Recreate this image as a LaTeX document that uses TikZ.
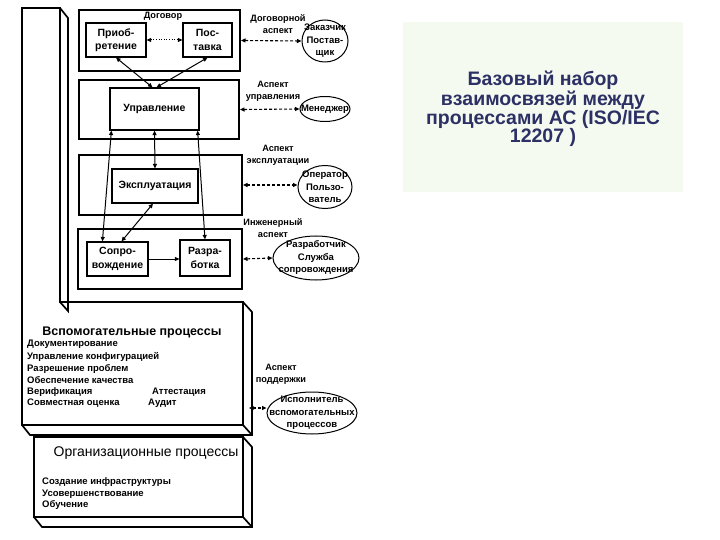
\documentclass[tikz,border=0pt]{standalone}
\usepackage{fontspec}
\setmainfont{Liberation Sans}
\usetikzlibrary{arrows.meta,shapes.geometric,calc}
\definecolor{titlecol}{RGB}{45,48,100}
\definecolor{tbg}{RGB}{244,250,240}
\begin{document}
\begin{tikzpicture}[x=1pt,y=-1pt,
  >={Triangle[length=4.5pt,width=4pt]},
  frame/.style={draw,line width=2pt,anchor=north west,inner sep=0pt},
  box/.style={draw,line width=1.2pt,align=center,inner sep=0pt,font=\bfseries\fontsize{10.5}{13.5}\selectfont},
  oval/.style={draw,ellipse,line width=1pt,align=center,inner sep=-30pt,font=\bfseries\fontsize{9.5}{12.5}\selectfont},
  lbl/.style={align=center,inner sep=0pt,font=\bfseries\fontsize{9.2}{12}\selectfont},
  item/.style={anchor=west,inner sep=0pt,font=\bfseries\fontsize{9.5}{11}\selectfont},
  link/.style={line width=1pt,<->},
  onelink/.style={line width=1pt,->},
  dotlink/.style={line width=1pt,<->,dash pattern=on 1pt off 1.6pt},
  dashlink/.style={line width=1.1pt,<->,dash pattern=on 3pt off 2pt},
  solid3d/.style={line width=1.7pt,line join=miter}
]
\useasboundingbox (0,0) rectangle (720,540);
\fill[white] (0,0) rectangle (720,540);

% title panel
\fill[tbg] (403,22) rectangle (683,192);
\node[text=titlecol,align=center,inner sep=0pt,font=\bfseries\fontsize{19.5}{18.5}\selectfont] (title) at (543,109) {Базовый набор\\взаимосвязей между\\процессами АС (ISO/IEC\\12207 )};

% 3D solid: column + support box
\draw[solid3d] (22,8) -- (60,8) -- (60,302) -- (243,302) -- (243,425) -- (22,425) -- cycle;
\draw[solid3d] (60,8) -- (68,18) -- (68,311) -- (60,302);
\draw[solid3d] (243,302) -- (252,312) -- (252,435) -- (30,435) -- (22,425);
\draw[solid3d] (243,425) -- (252,435);
% 3D organisational box
\draw[solid3d] (34,437) rectangle (243,517);
\draw[solid3d] (243,437) -- (252,447) -- (252,527) -- (42,527) -- (34,517);
\draw[solid3d] (243,517) -- (252,527);

% frames
\node[frame,minimum width=161pt,minimum height=61pt] (f1) at (78,9) {};
\node[frame,minimum width=160pt,minimum height=59pt] (f2) at (78,79) {};
\node[frame,minimum width=163pt,minimum height=60pt] (f3) at (78,154) {};
\node[frame,minimum width=164pt,minimum height=60pt] (f4) at (77,228) {};

\node[lbl] (dog) at (163,16) {Договор};

% inner boxes
\node[box,minimum width=60pt,minimum height=34pt] (p1) at (116,40) {Приоб-\\ретение};
\node[box,minimum width=49pt,minimum height=34pt] (p2) at (207.5,40) {Пос-\\тавка};
\node[box,minimum width=89pt,minimum height=42pt] (upr) at (154.5,109) {Управление};
\node[box,minimum width=86pt,minimum height=34pt] (eks) at (155,186) {Эксплуатация};
\node[box,minimum width=61pt,minimum height=34pt] (sop) at (117.5,259) {Сопро-\\вождение};
\node[box,minimum width=50pt,minimum height=36pt] (raz) at (205,258) {Разра-\\ботка};

% ellipses
\node[oval,minimum width=46pt,minimum height=42pt] (e1) at (325,41) {Заказчик\\Постав-\\щик};
\node[oval,minimum width=50pt,minimum height=25pt] (e2) at (325,109) {Менеджер};
\node[oval,minimum width=54pt,minimum height=43pt] (e3) at (325,187) {Оператор\\Пользо-\\ватель};
\node[oval,minimum width=86pt,minimum height=44pt] (e4) at (316,258) {Разработчик\\Служба\\сопровождения};
\node[oval,minimum width=90pt,minimum height=42pt] (e5) at (312,413) {Исполнитель\\вспомогательных\\процессов};

% aspect labels
\node[lbl] (a1) at (278,24) {Договорной\\аспект};
\node[lbl] (a2) at (273,91) {Аспект\\управления};
\node[lbl] (a3) at (278,155) {Аспект\\эксплуатации};
\node[lbl] (a4) at (273,228) {Инженерный\\аспект};
\node[lbl] (a5) at (281,374) {Аспект\\поддержки};

% support processes
\node[font=\bfseries\fontsize{12.5}{14}\selectfont,inner sep=0pt] (sup) at (132,332) {Вспомогательные процессы};
\node[item] (s1) at (27,344) {Документирование};
\node[item] (s2) at (27,357) {Управление конфигурацией};
\node[item] (s3) at (27,369) {Разрешение проблем};
\node[item] (s4) at (27,380) {Обеспечение качества};
\node[item] (s5) at (27,392) {Верификация};
\node[item] (s6) at (27,403) {Совместная оценка};
\node[item] (s7) at (152,392) {Аттестация};
\node[item] (s8) at (148,403) {Аудит};

% organisational processes
\node[font=\fontsize{14}{16}\selectfont,inner sep=0pt] (org) at (146,453) {Организационные процессы};
\node[item] (o1) at (42,482) {Создание инфраструктуры};
\node[item] (o2) at (42,494) {Усовершенствование};
\node[item] (o3) at (42,505) {Обучение};

% connectors
\draw[dotlink] (p1.east) -- (p2.west);
\draw[link] (p1.south) -- ([xshift=-2pt]upr.north);
\draw[link] (p2.south) -- ([xshift=2pt]upr.north);
\draw[link] ([xshift=2pt]upr.south west) -- ([xshift=16pt]sop.north west);
\draw[link] (upr.south) -- (eks.north);
\draw[link] ([xshift=-2pt]upr.south east) -- (raz.north);
\draw[link] ([xshift=-2pt]eks.south) -- ([xshift=4pt]sop.north);
\draw[onelink] (sop.east) -- (sop.east -| raz.west);

\draw[dashlink] (f1.east) -- (e1.west);
\draw[dashlink] (f2.east) -- (e2.west);
\draw[dashlink] (f3.east) -- (f3.east -| e3.west);
\draw[dashlink] (f4.east) -- (e4.west);
\coordinate (supR) at (249,408);
\draw[dashlink] (supR) -- (supR -| e5.west);
\end{tikzpicture}
\end{document}
